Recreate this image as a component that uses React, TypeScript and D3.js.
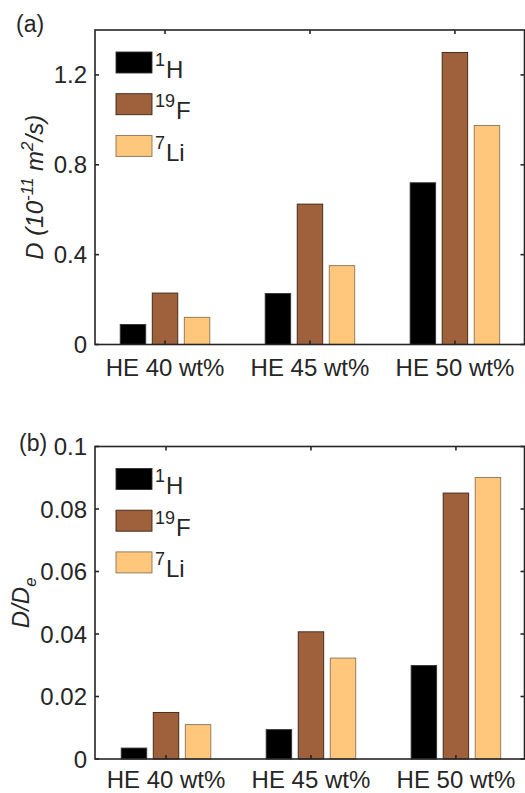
import React from "react";
import * as d3 from "d3";

const categories = ["HE 40 wt%", "HE 45 wt%", "HE 50 wt%"];
const seriesNames = ["1H", "19F", "7Li"];
const seriesSup = ["1", "19", "7"];
const seriesBase = ["H", "F", "Li"];
const seriesColors = ["#000000", "#9E613B", "#FEC77C"];
const seriesEdges = ["#333333", "#3a2414", "#8a7356"];

const dA_H = [0.089, 0.227, 0.72];
const dA_F = [0.229, 0.625, 1.3];
const dA_Li = [0.121, 0.351, 0.975];
const ticksA = [0, 0.4, 0.8, 1.2];
const tickLabelsA = ["0", "0.4", "0.8", "1.2"];

const dB_H = [0.0035, 0.0094, 0.0299];
const dB_F = [0.0149, 0.0407, 0.0851];
const dB_Li = [0.011, 0.0323, 0.0901];
const ticksB = [0, 0.02, 0.04, 0.06, 0.08, 0.1];
const tickLabelsB = ["0", "0.02", "0.04", "0.06", "0.08", "0.1"];

const FONT = "'Liberation Sans', Arial, Helvetica, sans-serif";
const AX = "#262626";

type PanelProps = {
  series: number[][];
  yMax: number;
  ticks: number[];
  tickLabels: string[];
  top: number;
  bottom: number;
  tag: string;
  tagX: number;
  tagY: number;
  yLabel: React.ReactNode;
  yLabelX: number;
  dx: number;
  xLabelDy: number;
};

function Panel(p: PanelProps) {
  const left = 95;
  const right = 524.5;
  const x = d3.scaleLinear().domain([0.517, 3.48]).range([left + p.dx, right + p.dx]);
  const y = d3.scaleLinear().domain([0, p.yMax]).range([p.bottom, p.top]);
  const offsets = [-0.221, 0, 0.221];
  const bw = 0.176;
  const tickLen = 4;
  const legTop = p.top + 22;
  return (
    <g fontFamily={FONT} fill={AX}>
      {p.series.map((vals, si) =>
        vals.map((v, ci) => {
          const cx = x(ci + 1 + offsets[si]);
          const w = x(bw) - x(0);
          return (
            <rect
              key={`${si}-${ci}`}
              x={cx - w / 2}
              y={y(v)}
              width={w}
              height={y(0) - y(v)}
              fill={seriesColors[si]}
              stroke={seriesEdges[si]}
              strokeWidth={0.9}
            />
          );
        })
      )}
      <rect x={left} y={p.top} width={right - left} height={p.bottom - p.top} fill="none" stroke={AX} strokeWidth={1.6} />
      {categories.map((c, i) => (
        <g key={c}>
          <line x1={x(i + 1)} x2={x(i + 1)} y1={p.bottom} y2={p.bottom - tickLen} stroke={AX} strokeWidth={1.6} />
          <line x1={x(i + 1)} x2={x(i + 1)} y1={p.top} y2={p.top + tickLen} stroke={AX} strokeWidth={1.6} />
          <text x={x(i + 1)} y={p.bottom + p.xLabelDy} textAnchor="middle" fontSize={24}>{c}</text>
        </g>
      ))}
      {p.ticks.map((t, i) => (
        <g key={t}>
          <line x1={left} x2={left + tickLen} y1={y(t)} y2={y(t)} stroke={AX} strokeWidth={1.6} />
          <line x1={right - tickLen} x2={right} y1={y(t)} y2={y(t)} stroke={AX} strokeWidth={1.6} />
          <text x={left - 8} y={y(t) + 8.5} textAnchor="end" fontSize={24}>{p.tickLabels[i]}</text>
        </g>
      ))}
      {seriesNames.map((n, i) => {
        const sy = legTop + i * 41.7;
        return (
          <g key={n}>
            <rect x={116} y={sy} width={36} height={21} fill={seriesColors[i]} stroke={seriesEdges[i]} strokeWidth={0.9} />
            <text x={155} y={sy + 25.5} fontSize={24}>
              <tspan fontSize={18} dy={-12}>{seriesSup[i]}</tspan>
              <tspan dy={12} dx={1}>{seriesBase[i]}</tspan>
            </text>
          </g>
        );
      })}
      <text x={p.tagX} y={p.tagY} fontSize={23}>{p.tag}</text>
      <text
        transform={`translate(${p.yLabelX},${(p.top + p.bottom) / 2}) rotate(-90)`}
        textAnchor="middle"
        fontSize={24}
        fontStyle="italic"
      >
        {p.yLabel}
      </text>
    </g>
  );
}

export default function App() {
  return (
    <svg width={525} height={793} style={{ position: "absolute", left: 0, top: 0 }}>
      <rect width={525} height={793} fill="#ffffff" />
      <Panel
        series={[dA_H, dA_F, dA_Li]}
        yMax={1.4}
        ticks={ticksA}
        tickLabels={tickLabelsA}
        top={30}
        bottom={344.5}
        tag="(a)"
        tagX={16}
        tagY={32}
        yLabelX={43}
        dx={0}
        xLabelDy={31.5}
        yLabel={
          <>
            D (10<tspan fontSize={17} dy={-10}>-11</tspan>
            <tspan dy={10}> m</tspan>
            <tspan fontSize={17} dy={-10}>2</tspan>
            <tspan dy={10}>/s)</tspan>
          </>
        }
      />
      <Panel
        series={[dB_H, dB_F, dB_Li]}
        yMax={0.1}
        ticks={ticksB}
        tickLabels={tickLabelsB}
        top={446.5}
        bottom={759}
        tag="(b)"
        tagX={19}
        tagY={451}
        yLabelX={29}
        dx={1}
        xLabelDy={29}
        yLabel={
          <>
            D/D<tspan fontSize={17} dy={7}>e</tspan>
          </>
        }
      />
    </svg>
  );
}
